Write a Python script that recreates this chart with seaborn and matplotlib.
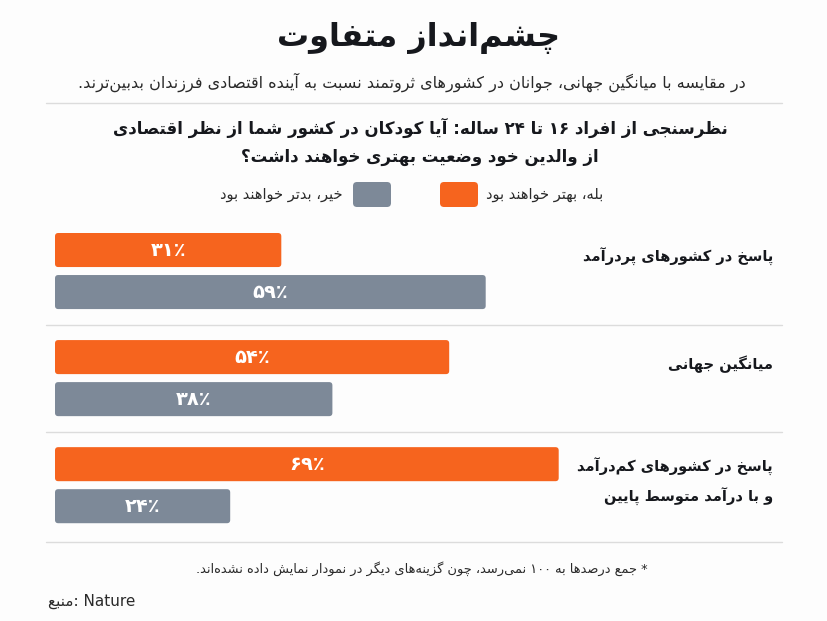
import re
import unicodedata

import matplotlib
matplotlib.use("Agg")
import matplotlib.pyplot as plt
from matplotlib.lines import Line2D
from matplotlib.patches import FancyBboxPatch
from matplotlib.transforms import IdentityTransform
import pandas as pd
import seaborn as sns

# texts
TITLE = "چشم‌انداز متفاوت"
SUBTITLE = "در مقایسه با میانگین جهانی، جوانان در کشورهای ثروتمند نسبت به آینده اقتصادی فرزندان بدبین‌ترند."
QUESTION = ("نظرسنجی از افراد ۱۶ تا ۲۴ ساله: آیا کودکان در کشور شما از نظر اقتصادی\n"
            "از والدین خود وضعیت بهتری خواهند داشت؟")
NOTE = "* جمع درصدها به ۱۰۰ نمی‌رسد، چون گزینه‌های دیگر در نمودار نمایش داده نشده‌اند."
SOURCE_LABEL = "منبع"
SOURCE_NAME = "Nature"

# data
categories = [
    "پاسخ در کشورهای پردرآمد",
    "میانگین جهانی",
    "پاسخ در کشورهای کم‌درآمد\nو با درآمد متوسطِ پایین",
]
answers = ["بله، بهتر خواهند بود", "خیر، بدتر خواهند بود"]
better = [31, 54, 69]
worse = [59, 38, 24]

ORANGE = "#F6641E"
GREY = "#7D8998"
INK = "#16181D"
BG = "#FDFDFD"
RULE = "#DCDCDC"

W, H = 828, 621

# --- minimal Arabic/Persian shaping (matplotlib has no text shaping) ---
FORMS = {}
for cp in list(range(0xFB50, 0xFE00)) + list(range(0xFE70, 0xFF00)):
    parts = unicodedata.decomposition(chr(cp)).split()
    if len(parts) < 2 or parts[0] not in ("<isolated>", "<final>", "<initial>", "<medial>"):
        continue
    base = "".join(chr(int(p, 16)) for p in parts[1:])
    FORMS.setdefault(base, {}).setdefault(parts[0][1:-1], chr(cp))

ALEFS = "اآأإ"
LTR_RUN = r"[A-Za-z0-9\u06F0-\u06F9\u066A%]+"


def joins_next(c):
    return c in FORMS and "initial" in FORMS[c]


def joins_prev(c):
    return c in FORMS and "final" in FORMS[c]


def shape(text):
    chars = [c for c in text if unicodedata.category(c) != "Mn"]
    out = []
    i = 0
    while i < len(chars):
        c = chars[i]
        if c not in FORMS:
            if c != "\u200c":
                out.append(c)
            i += 1
            continue
        prev = chars[i - 1] if i > 0 else ""
        nxt = chars[i + 1] if i + 1 < len(chars) else ""
        p = joins_next(prev)
        if c == "ل" and nxt in ALEFS:
            lig = FORMS[c + nxt]
            out.append(lig["final"] if p else lig["isolated"])
            i += 2
            continue
        n = joins_next(c) and joins_prev(nxt)
        f = FORMS[c]
        if p and n:
            out.append(f.get("medial", c))
        elif p:
            out.append(f.get("final", c))
        elif n:
            out.append(f.get("initial", c))
        else:
            out.append(f.get("isolated", c))
        i += 1
    return "".join(out)


def fa(text):
    lines = []
    for line in text.split("\n"):
        tokens = re.findall(LTR_RUN + "|[^A-Za-z0-9\u06F0-\u06F9\u066A%]+", shape(line))
        lines.append("".join(t if re.fullmatch(LTR_RUN, t) else t[::-1]
                             for t in reversed(tokens)))
    return "\n".join(lines)


def fa_num(v):
    return str(v).translate(str.maketrans("0123456789", "۰۱۲۳۴۵۶۷۸۹")) + "٪"


def main():
    sns.set_theme(style="white")
    plt.rcParams["font.family"] = ["DejaVu Sans"]

    df = pd.DataFrame({
        "group": categories * 2,
        "answer": [answers[0]] * len(better) + [answers[1]] * len(worse),
        "value": better + worse,
    })

    fig = plt.figure(figsize=(W / 100, H / 100), dpi=100, facecolor=BG)
    ax = fig.add_axes([46 / W, 1 - 543 / H, 736 / W, 325.5 / H])
    ax.set_facecolor(BG)

    sns.barplot(data=df, x="value", y="group", hue="answer", order=categories,
                hue_order=answers, palette=[ORANGE, GREY], saturation=1,
                width=0.785, gap=0.19, orient="h", legend=False, ax=ax)

    x_scale = 7.3  # px per percent
    ax.set_xlim(-9 / x_scale, -9 / x_scale + 736 / x_scale)
    ax.set_ylim(2.54, -0.5)
    ax.set_xlabel("")
    ax.set_ylabel("")
    ax.set_xticks([])
    ax.set_yticks([])
    sns.despine(ax=ax, left=True, bottom=True)

    # value labels in the bars
    for cont, vals in zip(ax.containers, [better, worse]):
        ax.bar_label(cont, labels=[fa_num(v) for v in vals], label_type="center",
                     color="white", fontsize=14, fontweight="bold")

    # round the bar corners
    aspect = x_scale / 107.0
    for bar in list(ax.patches):
        x, y = bar.get_x(), bar.get_y()
        w, h = bar.get_width(), bar.get_height()
        ax.add_patch(FancyBboxPatch((x, y), w, h,
                                    boxstyle="round,pad=0,rounding_size=0.45",
                                    mutation_aspect=aspect,
                                    fc=bar.get_facecolor(), ec="none", zorder=bar.get_zorder()))
        bar.remove()

    # group rules
    for yv in [0.5, 1.5, 2.535]:
        ax.axhline(yv, color=RULE, lw=1, zorder=0, clip_on=False)

    # group labels on the right
    for i, cat in enumerate(categories):
        dy = -0.03 if "\n" in cat else -0.13
        ax.text(0.988, i + dy, fa(cat), transform=ax.get_yaxis_transform(),
                ha="right", va="center", fontsize=10.5, fontweight="bold",
                color=INK, multialignment="right", linespacing=1.8)

    # header
    fig.text(0.505, 1 - 38 / H, fa(TITLE), ha="center", va="center",
             fontsize=23, fontweight="bold", color=INK)
    fig.text(412 / W, 1 - 82 / H, fa(SUBTITLE), ha="center", va="center",
             fontsize=11.5, color="#2a2a2a")
    fig.add_artist(Line2D([46 / W, 782 / W], [1 - 103 / H] * 2, color=RULE, lw=1))
    fig.text(420 / W, 1 - 142 / H, fa(QUESTION), ha="center", va="center",
             fontsize=12, fontweight="bold", color=INK, multialignment="center",
             linespacing=1.75)

    # legend
    for x0, col in [(440, ORANGE), (353, GREY)]:
        fig.add_artist(FancyBboxPatch((x0, H - 207), 38, 25,
                                      boxstyle="round,pad=0,rounding_size=4",
                                      transform=IdentityTransform(), fc=col, ec="none"))
    fig.text(486 / W, 1 - 194 / H, fa(answers[0]), ha="left", va="center",
             fontsize=10.5, color="#2a2a2a")
    fig.text(343 / W, 1 - 194 / H, fa(answers[1]), ha="right", va="center",
             fontsize=10.5, color="#2a2a2a")

    # footer
    fig.text(422 / W, 1 - 569 / H, fa(NOTE), ha="center", va="center",
             fontsize=9.4, color="#2a2a2a")
    fig.text(48 / W, 1 - 601 / H, fa(SOURCE_LABEL) + ": " + SOURCE_NAME,
             ha="left", va="center", fontsize=11, color="#2a2a2a")

    fig.savefig("out.png", dpi=100, facecolor=BG)


if __name__ == "__main__":
    main()
